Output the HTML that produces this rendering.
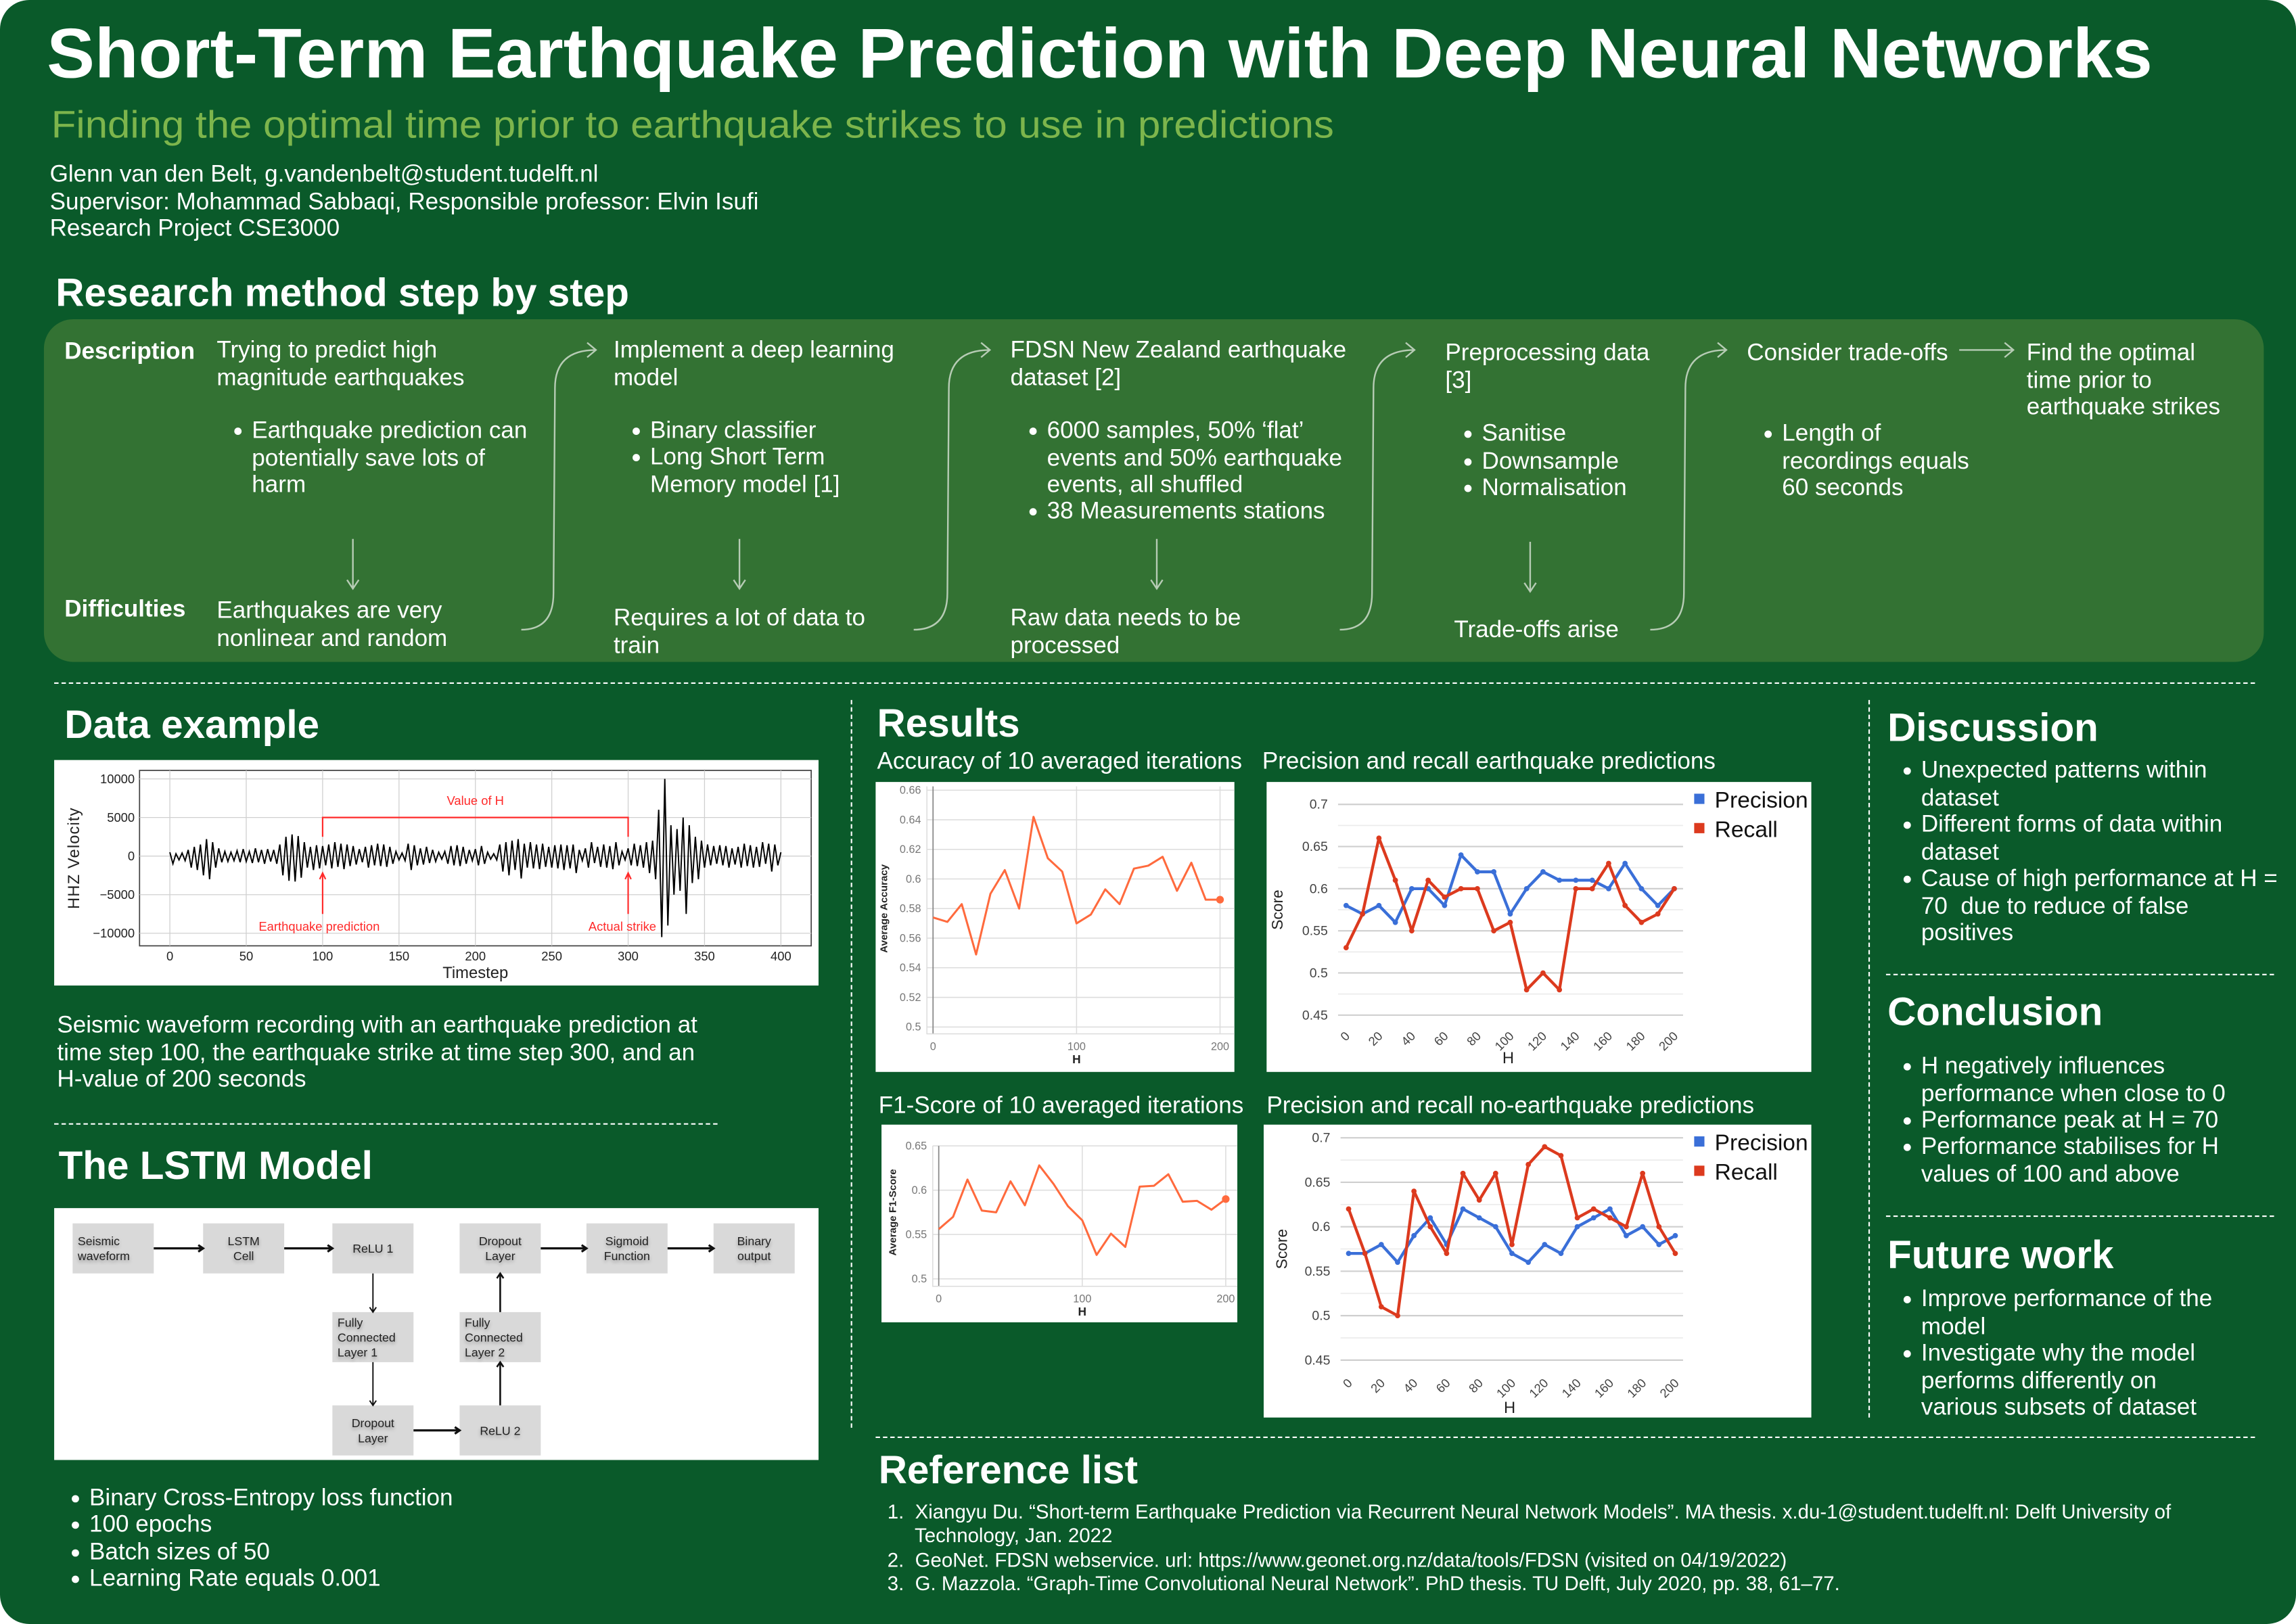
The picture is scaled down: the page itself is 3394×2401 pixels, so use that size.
<!DOCTYPE html>
<html><head><meta charset="utf-8">
<style>
html,body{margin:0;padding:0;background:#fff;}
body{width:3394px;height:2401px;overflow:hidden;}
#poster{position:absolute;left:0;top:0;width:1568px;height:1109px;transform-origin:0 0;transform:scale(2.16454,2.16501);background:#0a5a2a;border-radius:20px;overflow:hidden;font-family:"Liberation Sans",sans-serif;color:#fff;}
.t{position:absolute;white-space:nowrap;font-size:16.2px;line-height:18.5px;}
.h{position:absolute;white-space:nowrap;font-weight:bold;font-size:27px;line-height:30px;}
.b{position:absolute;white-space:nowrap;font-size:16.2px;line-height:18.5px;}
.b::before{content:"";position:absolute;left:-12px;top:7px;width:5px;height:5px;border-radius:50%;background:#fff;}
.dash{position:absolute;border-color:#fff;border-style:dashed;border-width:0;}
.box{position:absolute;background:#fff;}
.ref{position:absolute;white-space:nowrap;font-size:13.6px;line-height:16px;}
</style></head><body>
<div id="poster">
<svg style="position:absolute;left:0;top:0" width="1568" height="110">
<text x="32" y="53" font-family="Liberation Sans" font-weight="bold" font-size="48" fill="#fff" textLength="1438" lengthAdjust="spacingAndGlyphs">Short-Term Earthquake Prediction with Deep Neural Networks</text>
<text x="35" y="94" font-family="Liberation Sans" font-size="26" fill="#7db54c" textLength="876" lengthAdjust="spacingAndGlyphs">Finding the optimal time prior to earthquake strikes to use in predictions</text>
</svg>
<div class="t" style="left:34px;top:110px;">Glenn van den Belt, g.vandenbelt@student.tudelft.nl</div>
<div class="t" style="left:34px;top:129px;">Supervisor: Mohammad Sabbaqi, Responsible professor: Elvin Isufi</div>
<div class="t" style="left:34px;top:147px;">Research Project CSE3000</div>

<div class="h" style="left:38px;top:185px;">Research method step by step</div>
<div style="position:absolute;left:30px;top:218px;width:1516px;height:234px;background:#337233;border-radius:20px;"></div>
<svg style="position:absolute;left:0;top:0" width="1568" height="470">
<g stroke="#b7ccb5" stroke-width="1.1" fill="none">
<path d="M356 430 Q378 430 378 405 L379 265 Q379 239 407 239 M401 234 L407 239 L401 244"/>
<path d="M624 430 Q647 430 647 405 L648 265 Q648 239 676 239 M670 234 L676 239 L670 244"/>
<path d="M915 430 Q937 430 937 405 L938 265 Q938 239 966 239 M960 234 L966 239 L960 244"/>
<path d="M1127 430 Q1150 430 1150 405 L1151 265 Q1151 239 1179 239 M1173 234 L1179 239 L1173 244"/>
<path d="M1338 239 L1375 239 M1369 234 L1375 239 L1369 244"/>
<path d="M241 368 L241 402 M237 396 L241 402 L245 396"/>
<path d="M505 368 L505 402 M501 396 L505 402 L509 396"/>
<path d="M790 368 L790 402 M786 396 L790 402 L794 396"/>
<path d="M1045 370 L1045 404 M1041 398 L1045 404 L1049 398"/>
</g></svg>
<div class="t" style="left:44px;top:231px;font-weight:bold;">Description</div>
<div class="t" style="left:44px;top:407px;font-weight:bold;">Difficulties</div>
<div class="t" style="left:148px;top:230px;">Trying to predict high<br>magnitude earthquakes</div>
<div class="b" style="left:172px;top:285px;">Earthquake prediction can<br>potentially save lots of<br>harm</div>
<div class="t" style="left:148px;top:408px;">Earthquakes are very<br>nonlinear and random</div>
<div class="t" style="left:419px;top:230px;">Implement a deep learning<br>model</div>
<div class="b" style="left:444px;top:285px;">Binary classifier</div>
<div class="b" style="left:444px;top:303px;">Long Short Term<br>Memory model [1]</div>
<div class="t" style="left:419px;top:413px;">Requires a lot of data to<br>train</div>
<div class="t" style="left:690px;top:230px;">FDSN New Zealand earthquake<br>dataset [2]</div>
<div class="b" style="left:715px;top:285px;">6000 samples, 50% ‘flat’<br>events and 50% earthquake<br>events, all shuffled</div>
<div class="b" style="left:715px;top:340px;">38 Measurements stations</div>
<div class="t" style="left:690px;top:413px;">Raw data needs to be<br>processed</div>
<div class="t" style="left:987px;top:232px;">Preprocessing data<br>[3]</div>
<div class="b" style="left:1012px;top:287px;">Sanitise</div>
<div class="b" style="left:1012px;top:306px;">Downsample</div>
<div class="b" style="left:1012px;top:324px;">Normalisation</div>
<div class="t" style="left:993px;top:421px;">Trade-offs arise</div>
<div class="t" style="left:1193px;top:232px;">Consider trade-offs</div>
<div class="b" style="left:1217px;top:287px;">Length of<br>recordings equals<br>60 seconds</div>
<div class="t" style="left:1384px;top:232px;">Find the optimal<br>time prior to<br>earthquake strikes</div>

<div class="dash" style="left:37px;top:466px;width:1503px;border-top-width:1.3px;border-top-style:dashed;"></div>
<div class="dash" style="left:581px;top:478px;height:497px;border-left-width:1.3px;border-left-style:dashed;"></div>
<div class="dash" style="left:1276px;top:478px;height:490px;border-left-width:1.3px;border-left-style:dashed;"></div>
<div class="dash" style="left:37px;top:767px;width:453px;border-top-width:1.3px;border-top-style:dashed;"></div>
<div class="dash" style="left:1288px;top:665px;width:265px;border-top-width:1.3px;border-top-style:dashed;"></div>
<div class="dash" style="left:1288px;top:830px;width:265px;border-top-width:1.3px;border-top-style:dashed;"></div>
<div class="dash" style="left:598px;top:981px;width:942px;border-top-width:1.3px;border-top-style:dashed;"></div>

<div class="h" style="left:44px;top:480px;">Data example</div>
<div class="box" style="left:37px;top:519px;width:522px;height:154px;"></div>
<svg id="wave" style="position:absolute;left:0;top:0" width="1568" height="1109"></svg>
<div class="t" style="left:39px;top:691px;">Seismic waveform recording with an earthquake prediction at<br>time step 100, the earthquake strike at time step 300, and an<br>H-value of 200 seconds</div>

<div class="h" style="left:40px;top:781px;">The LSTM Model</div>
<div class="box" style="left:37px;top:825px;width:522px;height:172px;"></div>
<svg id="lstm" style="position:absolute;left:0;top:0" width="1568" height="1109"></svg>
<div class="b" style="left:61px;top:1014px;">Binary Cross-Entropy loss function</div>
<div class="b" style="left:61px;top:1032px;">100 epochs</div>
<div class="b" style="left:61px;top:1051px;">Batch sizes of 50</div>
<div class="b" style="left:61px;top:1069px;">Learning Rate equals 0.001</div>

<div class="h" style="left:599px;top:479px;">Results</div>
<div class="t" style="left:599px;top:511px;">Accuracy of 10 averaged iterations</div>
<div class="t" style="left:862px;top:511px;">Precision and recall earthquake predictions</div>
<div class="t" style="left:600px;top:746px;">F1-Score of 10 averaged iterations</div>
<div class="t" style="left:865px;top:746px;">Precision and recall no-earthquake predictions</div>
<div class="box" style="left:598px;top:534px;width:245px;height:198px;"></div>
<div class="box" style="left:865px;top:534px;width:372px;height:198px;"></div>
<div class="box" style="left:602px;top:768px;width:243px;height:135px;"></div>
<div class="box" style="left:863px;top:768px;width:374px;height:200px;"></div>
<svg id="charts" style="position:absolute;left:0;top:0" width="1568" height="1109"></svg>

<div class="h" style="left:1289px;top:482px;">Discussion</div>
<div class="b" style="left:1312px;top:517px;">Unexpected patterns within<br>dataset</div>
<div class="b" style="left:1312px;top:554px;">Different forms of data within<br>dataset</div>
<div class="b" style="left:1312px;top:591px;">Cause of high performance at H =<br>70&nbsp; due to reduce of false<br>positives</div>
<div class="h" style="left:1289px;top:676px;">Conclusion</div>
<div class="b" style="left:1312px;top:719px;">H negatively influences<br>performance when close to 0</div>
<div class="b" style="left:1312px;top:756px;">Performance peak at H = 70</div>
<div class="b" style="left:1312px;top:774px;">Performance stabilises for H<br>values of 100 and above</div>
<div class="h" style="left:1289px;top:842px;">Future work</div>
<div class="b" style="left:1312px;top:878px;">Improve performance of the<br>model</div>
<div class="b" style="left:1312px;top:915px;">Investigate why the model<br>performs differently on<br>various subsets of dataset</div>

<div class="h" style="left:600px;top:989px;">Reference list</div>
<div class="ref" style="left:606px;top:1025px;">1.&nbsp; Xiangyu Du. “Short-term Earthquake Prediction via Recurrent Neural Network Models”. MA thesis. x.du-1@student.tudelft.nl: Delft University of<br>&nbsp;&nbsp;&nbsp;&nbsp; Technology, Jan. 2022</div>
<div class="ref" style="left:606px;top:1058px;">2.&nbsp; GeoNet. FDSN webservice. url: https://www.geonet.org.nz/data/tools/FDSN (visited on 04/19/2022)</div>
<div class="ref" style="left:606px;top:1074px;">3.&nbsp; G. Mazzola. “Graph-Time Convolutional Neural Network”. PhD thesis. TU Delft, July 2020, pp. 38, 61–77.</div>
</div>

<script>
// ---------- chart data ----------
const hValues = [0,10,20,30,40,50,60,70,80,90,100,110,120,130,140,150,160,170,180,190,200];
const accuracyValues = [0.574,0.571,0.583,0.549,0.590,0.606,0.580,0.642,0.614,0.605,0.570,0.576,0.593,0.583,0.607,0.609,0.615,0.592,0.611,0.586,0.586];
const f1Values = [0.556,0.570,0.612,0.577,0.575,0.610,0.583,0.628,0.607,0.582,0.566,0.527,0.551,0.536,0.604,0.605,0.618,0.587,0.588,0.578,0.590];
const eqPrecision = [0.58,0.57,0.58,0.56,0.60,0.60,0.58,0.64,0.62,0.62,0.57,0.60,0.62,0.61,0.61,0.61,0.60,0.63,0.60,0.58,0.60];
const eqRecall = [0.53,0.57,0.66,0.61,0.55,0.61,0.59,0.60,0.60,0.55,0.56,0.48,0.50,0.48,0.60,0.60,0.63,0.58,0.56,0.57,0.60];
const noeqPrecision = [0.57,0.57,0.58,0.56,0.59,0.61,0.58,0.62,0.61,0.60,0.57,0.56,0.58,0.57,0.60,0.61,0.62,0.59,0.60,0.58,0.59];
const noeqRecall = [0.62,0.57,0.51,0.50,0.64,0.60,0.57,0.66,0.63,0.66,0.58,0.67,0.69,0.68,0.61,0.62,0.61,0.60,0.66,0.60,0.57];
const accTicks = ["0.5","0.52","0.54","0.56","0.58","0.6","0.62","0.64","0.66"];
const f1Ticks = ["0.5","0.55","0.6","0.65"];
const prTicks = ["0.45","0.5","0.55","0.6","0.65","0.7"];
const hTicksSmall = ["0","100","200"];
const hTicksPR = ["0","20","40","60","80","100","120","140","160","180","200"];
// waveform (HHZ velocity, thousands) sampled every 2 timesteps
const waveTime = [];
for (let t = 0; t <= 400; t += 2) waveTime.push(t);
const waveValues = [
0.5,-1,0.3,-0.5,0.4,-0.6,0.8,-1.5,1.2,-1.8,
1.5,-2.5,2.2,-3,1.8,-1.5,1,-0.8,0.6,-0.7,
0.5,-0.6,0.7,-0.8,0.9,-0.7,0.6,-0.9,1,-0.8,
0.8,-1,0.9,-0.7,0.8,-1,1.5,-2.5,2.5,-3.2,
2.8,-3.3,2.6,-2.8,1.8,-1.5,1.2,-1.8,1.4,-1.6,
1.3,-1.2,1.5,-1.6,1.8,-1.4,1.6,-1.7,1.5,-1.3,
1.3,-1.1,0.9,-0.8,1.2,-1.5,1.4,-1.2,1.6,-1.3,
1.5,-1.4,1.2,-1,0.6,-0.5,0.4,-0.6,1.6,-1.8,
1.4,-1.2,1,-1.1,1.2,-0.9,0.8,-0.7,0.5,-0.4,
0.6,-1,1.3,-1.2,1.4,-1.3,1.2,-1,0.8,-0.6,
0.9,-1.2,1.3,-1,0.5,-0.4,0.3,-0.5,1.5,-2,
1.8,-2.5,2,-1.8,2.2,-2.9,1.6,-1.5,1.8,-1.6,
1.5,-1.7,1.6,-1.4,1.2,-1.5,1.4,-1.6,1.5,-1.8,
1.4,-1.6,1.5,-2.2,0.8,-0.6,1,-1.5,1.8,-0.9,
1.2,-1.4,1.5,-1.5,1.3,-1.7,1.8,-1.2,0.6,-0.5,
1,-1.2,1.6,-1.3,1.4,-1.5,1.8,-2.2,2,-3,
6,-10.5,10,-9,4,-5,3.5,-4.5,5,-7.5,
4,-3.5,2.5,-3,2,-1.5,1.5,-1.2,1.3,-1,
1.4,-1.2,1.3,-1.5,1,-1.1,1.2,-1.5,1.6,-1.3,
1.4,-1.5,1.2,-1.4,1.8,-1,1.6,-2,1.5,-1.2,
0.5];
const waveYTicks = ["10000","5000","0","\u22125000","\u221210000"];
const waveYTickValues = [10,5,0,-5,-10];
const waveXTicks = ["0","50","100","150","200","250","300","350","400"];

const NS = "http://www.w3.org/2000/svg";
function mk(parent, tag, attrs, text) {
  const e = document.createElementNS(NS, tag);
  for (const k in attrs) e.setAttribute(k, attrs[k]);
  if (text !== undefined) e.textContent = text;
  parent.appendChild(e);
  return e;
}
function lin(d0, d1, r0, r1) { return v => r0 + (v - d0) * (r1 - r0) / (d1 - d0); }

// ---------- small orange charts ----------
function smallChart(svg, name, values, ticks, ymin, ymax, box) {
  const g = mk(svg, "g", {});
  
  
  const xs = lin(0, 200, box.x0, box.x1), ys = lin(ymin, ymax, box.y0, box.y1);
  ticks.forEach(t => {
    const y = ys(parseFloat(t));
    const gl = mk(g, "line", {x1: box.fl, x2: box.r, y1: y, y2: y, stroke: "#dcdcdc", "stroke-width": 0.7});
    
    
    const tl = mk(g, "text", {x: box.fl - 4, y: y + 2.5, "text-anchor": "end", "font-size": 7.5, fill: "#777", "font-family": "Liberation Sans"}, t);
    
    
  });
  hTicksSmall.forEach(t => {
    const x = xs(parseFloat(t));
    const gl = mk(g, "line", {x1: x, x2: x, y1: box.top, y2: box.fb, stroke: "#dcdcdc", "stroke-width": 0.7});
    
    
    const tl = mk(g, "text", {x: x, y: box.fb + 11, "text-anchor": "middle", "font-size": 7.5, fill: "#777", "font-family": "Liberation Sans"}, t);
    
    
  });
  const ax = mk(g, "line", {x1: xs(0), x2: xs(0), y1: box.top, y2: box.fb, stroke: "#888", "stroke-width": 0.8});
  
  
  const fr = mk(g, "path", {d: `M${box.fl} ${box.top} L${box.fl} ${box.fb} L${box.r} ${box.fb}`, stroke: "#dcdcdc", fill: "none", "stroke-width": 0.7});
  
  
  const d = values.map((v, i) => (i ? "L" : "M") + xs(hValues[i]).toFixed(2) + " " + ys(v).toFixed(2)).join(" ");
  const p = mk(g, "path", {d: d, stroke: "#ff6a3d", "stroke-width": 1.4, fill: "none", "stroke-linejoin": "round"});
  
  
  const last = values.length - 1;
  const c = mk(g, "circle", {cx: xs(hValues[last]), cy: ys(values[last]), r: 2.6, fill: "#ff6a3d"});
  
  
  const xt = mk(g, "text", {x: xs(100), y: box.fb + 20, "text-anchor": "middle", "font-size": 8, "font-weight": "bold", fill: "#222", "font-family": "Liberation Sans"}, "H");
  
  
  const yt = mk(g, "text", {x: 0, y: 0, transform: `translate(${box.yl},${(box.y0 + box.y1) / 2}) rotate(-90)`, "text-anchor": "middle", "font-size": 7, "font-weight": "bold", fill: "#222", "font-family": "Liberation Sans"}, box.ytitle);
  
  
}

// ---------- precision / recall charts ----------
function prChart(svg, name, prec, rec, box) {
  const g = mk(svg, "g", {});
  
  
  const xs = lin(0, 200, box.x0, box.x1), ys = lin(0.45, 0.7, box.y0, box.y1);
  prTicks.forEach((t, i) => {
    const v = parseFloat(t);
    const y = ys(v);
    const gl = mk(g, "line", {x1: box.gl, x2: box.gr, y1: y, y2: y, stroke: "#cfcfcf", "stroke-width": 1});
    
    
    if (i < prTicks.length - 1) {
      const ym = ys(v + 0.025);
      const ml = mk(g, "line", {x1: box.gl, x2: box.gr, y1: ym, y2: ym, stroke: "#ececec", "stroke-width": 0.8});
      
      
    }
    const tl = mk(g, "text", {x: box.gl - 7, y: y + 3, "text-anchor": "end", "font-size": 9, fill: "#444", "font-family": "Liberation Sans"}, t);
    
    
  });
  hTicksPR.forEach(t => {
    const x = xs(parseFloat(t));
    const tl = mk(g, "text", {x: 0, y: 0, transform: `translate(${x + 3},${box.tl}) rotate(-45)`, "text-anchor": "end", "font-size": 8.5, fill: "#444", "font-family": "Liberation Sans"}, t);
    
    
  });
  [[prec, "#3a6fd8", "precision"], [rec, "#dc3a1e", "recall"]].forEach(s => {
    const d = s[0].map((v, i) => (i ? "L" : "M") + xs(hValues[i]).toFixed(2) + " " + ys(v).toFixed(2)).join(" ");
    const p = mk(g, "path", {d: d, stroke: s[1], "stroke-width": 2, fill: "none", "stroke-linejoin": "round"});
    
    
    s[0].forEach((v, i) => {
      const c = mk(g, "circle", {cx: xs(hValues[i]), cy: ys(v), r: 1.8, fill: s[1]});
      
      
    });
  });
  const xt = mk(g, "text", {x: box.hx, y: box.hy, "text-anchor": "middle", "font-size": 11, fill: "#222", "font-family": "Liberation Sans"}, "H");
  
  
  const yt = mk(g, "text", {x: 0, y: 0, transform: `translate(${box.sx},${(box.y0 + box.y1) / 2}) rotate(-90)`, "text-anchor": "middle", "font-size": 10.5, fill: "#222", "font-family": "Liberation Sans"}, "Score");
  
  
  [["Precision", "#3a6fd8", box.ly], ["Recall", "#dc3a1e", box.ly + 20]].forEach(l => {
    const r = mk(g, "rect", {x: 1157, y: l[2] - 4, width: 7, height: 7, fill: l[1]});
    
    
    const t = mk(g, "text", {x: 1171, y: l[2] + 5.5, "font-size": 15.5, fill: "#111", "font-family": "Liberation Sans"}, l[0]);
    
    
  });
}

const charts = document.getElementById("charts");
smallChart(charts, "accuracy-chart", accuracyValues, accTicks, 0.5, 0.66,
  {x0: 637.2, x1: 833.2, y0: 701.3, y1: 539.6, fl: 633, fb: 706, r: 843, top: 537, yl: 606, ytitle: "Average Accuracy"});
smallChart(charts, "f1-chart", f1Values, f1Ticks, 0.5, 0.65,
  {x0: 641.1, x1: 837.1, y0: 873.3, y1: 782.5, fl: 637, fb: 878.4, r: 845, top: 782.5, yl: 612, ytitle: "Average F1-Score"});
prChart(charts, "pr-earthquake-chart", eqPrecision, eqRecall,
  {x0: 919.3, x1: 1143.4, y0: 693.2, y1: 549.3, gl: 913.8, gr: 1149.4, tl: 708, hx: 1030, hy: 726, sx: 876, ly: 546});
prChart(charts, "pr-no-earthquake-chart", noeqPrecision, noeqRecall,
  {x0: 921, x1: 1144.1, y0: 928.8, y1: 777, gl: 915.5, gr: 1149.4, tl: 945, hx: 1031, hy: 965, sx: 879, ly: 780});

// ---------- waveform ----------
(function () {
  const svg = document.getElementById("wave");
  const xs = lin(0, 400, 116, 533.3), ys = lin(0, 10, 584.6, 531.9);
  const fr = mk(svg, "rect", {x: 95.3, y: 526.1, width: 458.7, height: 119.8, fill: "none", stroke: "#444", "stroke-width": 0.8});
  
  
  waveXTicks.forEach(t => {
    const x = xs(parseFloat(t));
    const l = mk(svg, "line", {x1: x, x2: x, y1: 526.1, y2: 645.9, stroke: "#d0d0d0", "stroke-width": 0.6});
    
    
    const tx = mk(svg, "text", {x: x, y: 656, "text-anchor": "middle", "font-size": 8.5, fill: "#222", "font-family": "Liberation Sans"}, t);
    
    
  });
  waveYTicks.forEach((t, i) => {
    const y = ys(waveYTickValues[i]);
    const l = mk(svg, "line", {x1: 95.3, x2: 554, y1: y, y2: y, stroke: "#d0d0d0", "stroke-width": 0.6});
    
    
    const tx = mk(svg, "text", {x: 92, y: y + 3, "text-anchor": "end", "font-size": 8.5, fill: "#222", "font-family": "Liberation Sans"}, t);
    
    
  });
  const d = waveValues.map((v, i) => (i ? "L" : "M") + xs(waveTime[i]).toFixed(2) + " " + ys(v).toFixed(2)).join(" ");
  const p = mk(svg, "path", {d: d, stroke: "#000", "stroke-width": 0.9, fill: "none"});
  
  
  const red = "#ff2a2a";
  const br = mk(svg, "path", {d: `M${xs(100)} ${ys(2.5)} L${xs(100)} ${ys(5)} L${xs(300)} ${ys(5)} L${xs(300)} ${ys(2.5)}`, stroke: red, "stroke-width": 1, fill: "none"});
  
  
  const ht = mk(svg, "text", {x: xs(200), y: ys(7.2) + 3, "text-anchor": "middle", "font-size": 8.5, fill: red, "font-family": "Liberation Sans"}, "Value of H");
  
  
  [[100, "Earthquake prediction", 218, "prediction-arrow"], [300, "Actual strike", 425, "strike-arrow"]].forEach(a => {
    const x = xs(a[0]);
    const l = mk(svg, "path", {d: `M${x} ${ys(-7.5)} L${x} ${ys(-2.2)} M${x - 2} ${ys(-3)} L${x} ${ys(-2.2)} L${x + 2} ${ys(-3)}`, stroke: red, "stroke-width": 1, fill: "none"});
    
    
    const t = mk(svg, "text", {x: a[2], y: ys(-9.1) + 3, "text-anchor": "middle", "font-size": 8.5, fill: red, "font-family": "Liberation Sans"}, a[1]);
    
    
  });
  const xt = mk(svg, "text", {x: xs(200), y: 668, "text-anchor": "middle", "font-size": 11, fill: "#222", "font-family": "Liberation Sans"}, "Timestep");
  
  
  const yt = mk(svg, "text", {x: 0, y: 0, transform: "translate(54,586) rotate(-90)", "text-anchor": "middle", "font-size": 11, fill: "#222", "font-family": "Liberation Sans", "letter-spacing": "0.5"}, "HHZ Velocity");
  
  
})();

// ---------- LSTM diagram ----------
(function () {
  const svg = document.getElementById("lstm");
  const colX = [49.6, 138.7, 227, 313.9, 400.5, 487.3];
  const rowY = [835.4, 896, 959.7];
  const W = 55.4, H = 34.2;
  const boxes = [
    [0, 0, ["Seismic", "waveform"], "start"], [1, 0, ["LSTM", "Cell"], "mid"], [2, 0, ["ReLU 1"], "mid"],
    [3, 0, ["Dropout", "Layer"], "mid"], [4, 0, ["Sigmoid", "Function"], "mid"], [5, 0, ["Binary", "output"], "mid"],
    [2, 1, ["Fully", "Connected", "Layer 1"], "start"], [3, 1, ["Fully", "Connected", "Layer 2"], "start"],
    [2, 2, ["Dropout", "Layer"], "mid"], [3, 2, ["ReLU 2"], "mid"]
  ];
  const defs = mk(svg, "defs", {});
  const f = mk(defs, "filter", {id: "sh", x: "-20%", y: "-50%", width: "140%", height: "200%"});
  mk(f, "feGaussianBlur", {in: "SourceAlpha", stdDeviation: 1.2, result: "b"});
  mk(f, "feOffset", {in: "b", dy: 1.5, result: "o"});
  const fc = mk(f, "feComponentTransfer", {in: "o", result: "o2"});
  mk(fc, "feFuncA", {type: "linear", slope: 0.35});
  const mg = mk(f, "feMerge", {});
  mk(mg, "feMergeNode", {in: "o2"});
  mk(mg, "feMergeNode", {in: "SourceGraphic"});
  boxes.forEach(b => {
    const x = colX[b[0]], y = rowY[b[1]];
    const r = mk(svg, "rect", {x: x, y: y, width: W, height: H, fill: "#d9d9d9"});
    
    
    const n = b[2].length, lh = 10.2;
    const y0 = y + H / 2 - (n - 1) * lh / 2 + 3;
    const t = mk(svg, "text", {x: b[3] === "start" ? x + 3.5 : x + W / 2, y: y0, "text-anchor": b[3] === "start" ? "start" : "middle", "font-size": 8.2, fill: "#222", "font-family": "Liberation Sans", filter: "url(#sh)"});
    
    
    b[2].forEach((s, i) => mk(t, "tspan", {x: t.getAttribute("x"), dy: i ? lh : 0}, s));
  });
  function arrow(x1, y1, x2, y2, w) {
    const a = Math.atan2(y2 - y1, x2 - x1), s = 4;
    const d = `M${x1} ${y1} L${x2} ${y2} M${x2 - s * Math.cos(a - 0.6)} ${y2 - s * Math.sin(a - 0.6)} L${x2} ${y2} L${x2 - s * Math.cos(a + 0.6)} ${y2 - s * Math.sin(a + 0.6)}`;
    const p = mk(svg, "path", {d: d, stroke: "#111", "stroke-width": w, fill: "none"});
    
    
  }
  const my0 = rowY[0] + H / 2;
  [[0, 1], [1, 2], [3, 4], [4, 5]].forEach(c => arrow(colX[c[0]] + W, my0, colX[c[1]], my0, 1.5));
  const c2 = colX[2] + W / 2, c3 = colX[3] + W / 2;
  arrow(c2, rowY[0] + H, c2, rowY[1], 0.9);
  arrow(c2, rowY[1] + H, c2, rowY[2], 0.9);
  arrow(colX[2] + W, rowY[2] + H / 2, colX[3], rowY[2] + H / 2, 1.5);
  arrow(c3, rowY[2], c3, rowY[1] + H, 1.2);
  arrow(c3, rowY[1], c3, rowY[0] + H, 1.2);
})();
</script>
</body></html>
